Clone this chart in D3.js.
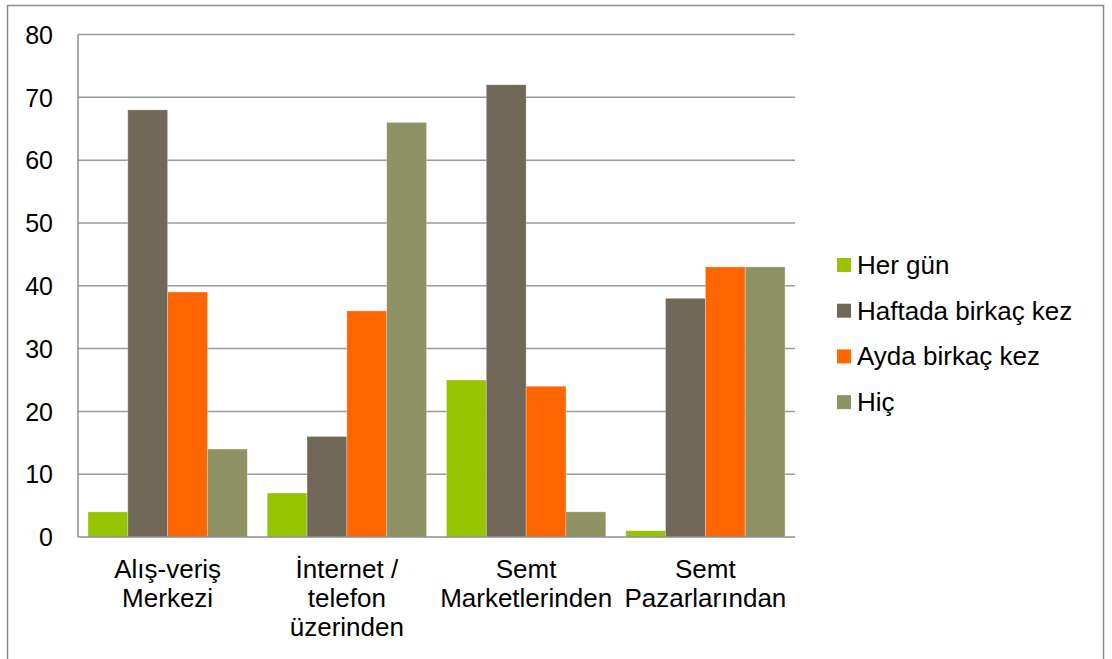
<!DOCTYPE html>
<html><head><meta charset="utf-8">
<script src="https://cdn.jsdelivr.net/npm/d3@7"></script>
<style>html,body{margin:0;padding:0;background:#fff;}svg{display:block;font-family:"Liberation Sans",Arial,sans-serif;}</style>
</head><body>
<svg id="c" width="1112" height="659"></svg>
<script>
const categories = [["Alış-veriş","Merkezi"],["İnternet /","telefon","üzerinden"],["Semt","Marketlerinden"],["Semt","Pazarlarından"]];
const seriesNames = ["Her gün","Haftada birkaç kez","Ayda birkaç kez","Hiç"];
const herGun = [4, 7, 25, 1];
const haftada = [68, 16, 72, 38];
const ayda = [39, 36, 24, 43];
const hic = [14, 66, 4, 43];
const colors = ["#96C400","#71685A","#FF6600","#8F9264"];
const yTicks = [0,10,20,30,40,50,60,70,80];

const seriesValues = [herGun, haftada, ayda, hic];
const FS = 26;
const svg = d3.select("#c");
svg.append("rect").attr("x",7.5).attr("y",5.5).attr("width",1096).attr("height",700)
  .attr("fill","#fff").attr("stroke","#8c8c8c").attr("stroke-width",1.5);

const L=78, R=795, T=34.5, B=537;
const x = d3.scaleBand().domain(d3.range(categories.length)).range([L,R]).paddingInner(0).paddingOuter(0);
const y = d3.scaleLinear().domain([0,80]).range([B,T]);
const gw = x.bandwidth();
const bw = gw/4.5;
// grid
svg.append("g").selectAll("line").data(yTicks.filter(d=>d>0)).join("line")
  .attr("x1",L).attr("x2",R).attr("y1",d=>y(d)).attr("y2",d=>y(d))
  .attr("stroke","#9a9a9a").attr("stroke-width",1.5);
// y axis labels
const ya = d3.axisLeft(y).tickValues(yTicks).tickSize(0).tickPadding(25);
const yg = svg.append("g").attr("transform",`translate(${L},0)`).call(ya);
yg.select(".domain").remove();
yg.attr("font-size",null).attr("font-family",null);
yg.selectAll("text").attr("font-size",FS-1).attr("fill","#000").attr("dy","0.35em");
// bars
const off = (gw - 4*bw)/2;
seriesValues.forEach((vals,si)=>{
  svg.append("g").selectAll("rect").data(vals).join("rect")
    .attr("x",(d,i)=>x(i)+off+si*bw).attr("width",bw)
    .attr("y",d=>y(d)).attr("height",d=>B-y(d))
    .attr("fill",colors[si]).attr("stroke","rgba(255,255,255,0.35)").attr("stroke-width",0.8);
});
// axes lines
svg.append("line").attr("x1",L).attr("x2",L).attr("y1",T).attr("y2",B).attr("stroke","#8c8c8c").attr("stroke-width",1.5);
svg.append("line").attr("x1",L).attr("x2",R).attr("y1",B).attr("y2",B).attr("stroke","#8c8c8c").attr("stroke-width",1.5);
// category labels
const cg = svg.append("g");
categories.forEach((lines,i)=>{
  const t = cg.append("text").attr("text-anchor","middle").attr("font-size",FS).attr("fill","#000");
  lines.forEach((ln,j)=>{
    t.append("tspan").attr("x",x(i)+gw/2).attr("y",578+j*29).text(ln);
  });
});
// legend
const lg = svg.append("g");
seriesNames.forEach((n,i)=>{
  const cy = 265 + i*45.7;
  lg.append("rect").attr("x",837).attr("y",cy-7).attr("width",14).attr("height",14).attr("fill",colors[i]);
  lg.append("text").attr("x",857).attr("y",cy+9).attr("font-size",FS).attr("fill","#000").text(n);
});
</script>
</body></html>
